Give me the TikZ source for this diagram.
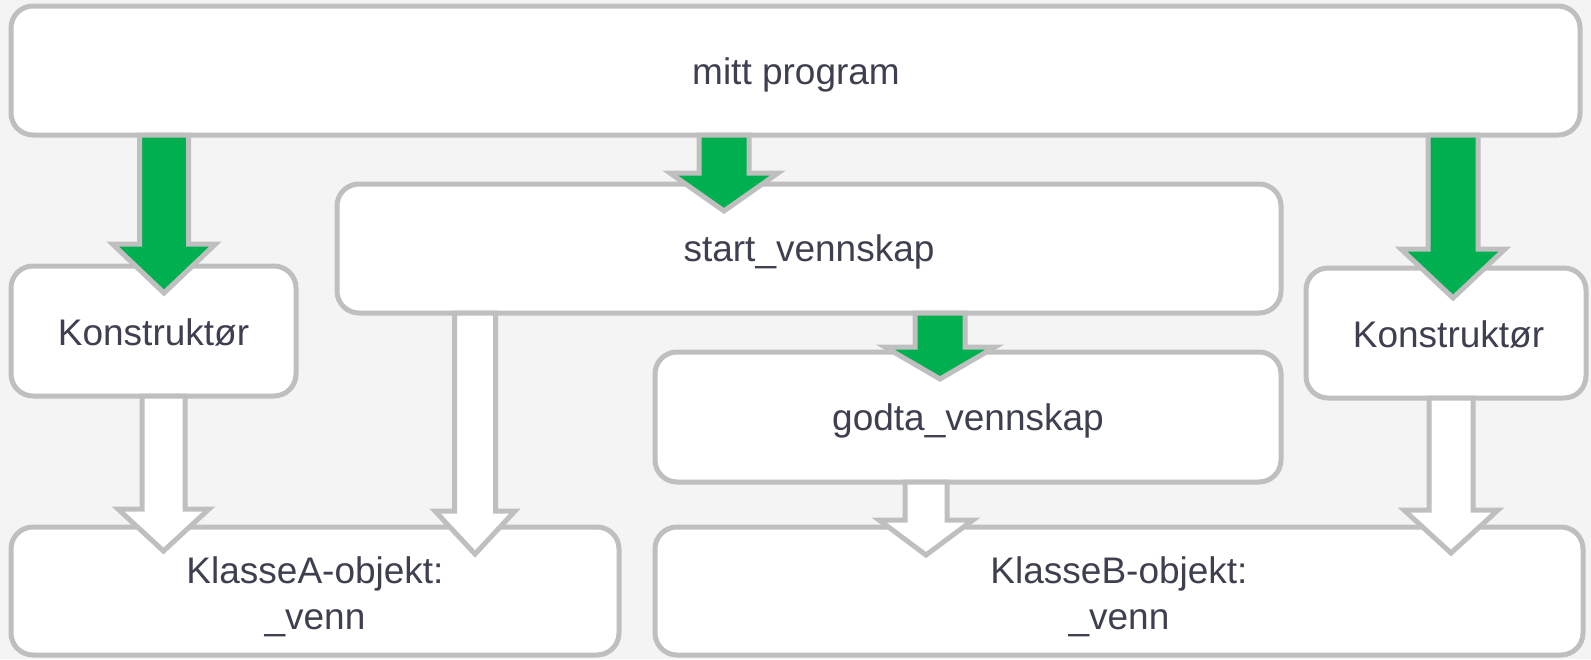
\documentclass[tikz,border=0pt]{standalone}
\usepackage{fontspec}
\setmainfont{Liberation Sans}
\usetikzlibrary{calc}

\definecolor{bgc}{HTML}{F4F4F4}
\definecolor{edgec}{HTML}{BFBFBF}
\definecolor{flowgreen}{HTML}{00B050}
\definecolor{inkc}{RGB}{62,64,80}

\tikzset{
  box/.style={draw=edgec, line width=5pt, fill=white, rounded corners=22pt,
              inner sep=0pt, outer sep=0pt},
  lbl/.style={text=inkc, font=\fontsize{37}{46}\selectfont, inner sep=0pt, anchor=base},
  greenflow/.style={draw=edgec, fill=flowgreen, line width=5pt, line join=miter},
  whiteflow/.style={draw=edgec, fill=white, line width=5pt, line join=miter},
}

% block arrow from the bottom of one node down into the top of another
% #1 style, #2 source, #3 target, #4 x, #5 half shaft width,
% #6 half head width, #7 head length, #8 depth of the tip below the target top
\newcommand\blockarrow[8]{%
  \draw[#1] let \p1=(#2.south), \p2=(#3.north) in
    (#4pt-#5pt,\y1) -- (#4pt-#5pt,\y2-#8pt+#7pt) -- (#4pt-#6pt,\y2-#8pt+#7pt)
    -- (#4pt,\y2-#8pt) -- (#4pt+#6pt,\y2-#8pt+#7pt) -- (#4pt+#5pt,\y2-#8pt+#7pt)
    -- (#4pt+#5pt,\y1) -- cycle;
}

\begin{document}
\begin{tikzpicture}[x=1pt, y=-1pt]
  \useasboundingbox (0,0) rectangle (1591,659);
  \fill[bgc] (0,0) rectangle (1591,659);

  % boxes
  \node[box, minimum width=1569pt, minimum height=129pt] (prog)  at (795.5,70.5) {};
  \node[box, minimum width=285pt,  minimum height=130pt] (konA)  at (153.5,331) {};
  \node[box, minimum width=944pt,  minimum height=129pt] (start) at (809,248.5) {};
  \node[box, minimum width=280pt,  minimum height=130pt] (konB)  at (1446,333) {};
  \node[box, minimum width=626pt,  minimum height=130pt] (godta) at (968,417) {};
  \node[box, minimum width=608pt,  minimum height=128pt] (klA)   at (315,591) {};
  \node[box, minimum width=928pt,  minimum height=128pt] (klB)   at (1119,591) {};

  % labels
  \node[lbl] (tprog)  at (796,84)     {mitt program};
  \node[lbl] (tstart) at (809,261.5)  {start\_vennskap};
  \node[lbl] (tkonA)  at (153.5,345)  {Konstruktør};
  \node[lbl] (tkonB)  at (1448.5,347) {Konstruktør};
  \node[lbl] (tgodta) at (968,430)    {godta\_vennskap};
  \node[lbl] (tklA1)  at (315,583)    {KlasseA-objekt:};
  \node[lbl] (tklA2)  at (315,629)    {\_venn};
  \node[lbl] (tklB1)  at (1119,583)   {KlasseB-objekt:};
  \node[lbl] (tklB2)  at (1119,629)   {\_venn};

  % calls
  \blockarrow{greenflow}{prog}{konA}{164}{24.5}{51.5}{49}{27}
  \blockarrow{greenflow}{prog}{start}{724}{25}{54}{38}{27}
  \blockarrow{greenflow}{prog}{konB}{1453}{25}{52}{49}{30}
  \blockarrow{greenflow}{start}{godta}{940}{25}{55}{32}{27}

  % references that get set
  \blockarrow{whiteflow}{konA}{klA}{163.5}{21.5}{45.5}{42}{24}
  \blockarrow{whiteflow}{start}{klA}{475}{20.5}{40}{43}{27}
  \blockarrow{whiteflow}{godta}{klB}{926}{21}{47}{35}{28}
  \blockarrow{whiteflow}{konB}{klB}{1451}{22}{47}{43}{26}
\end{tikzpicture}
\end{document}
